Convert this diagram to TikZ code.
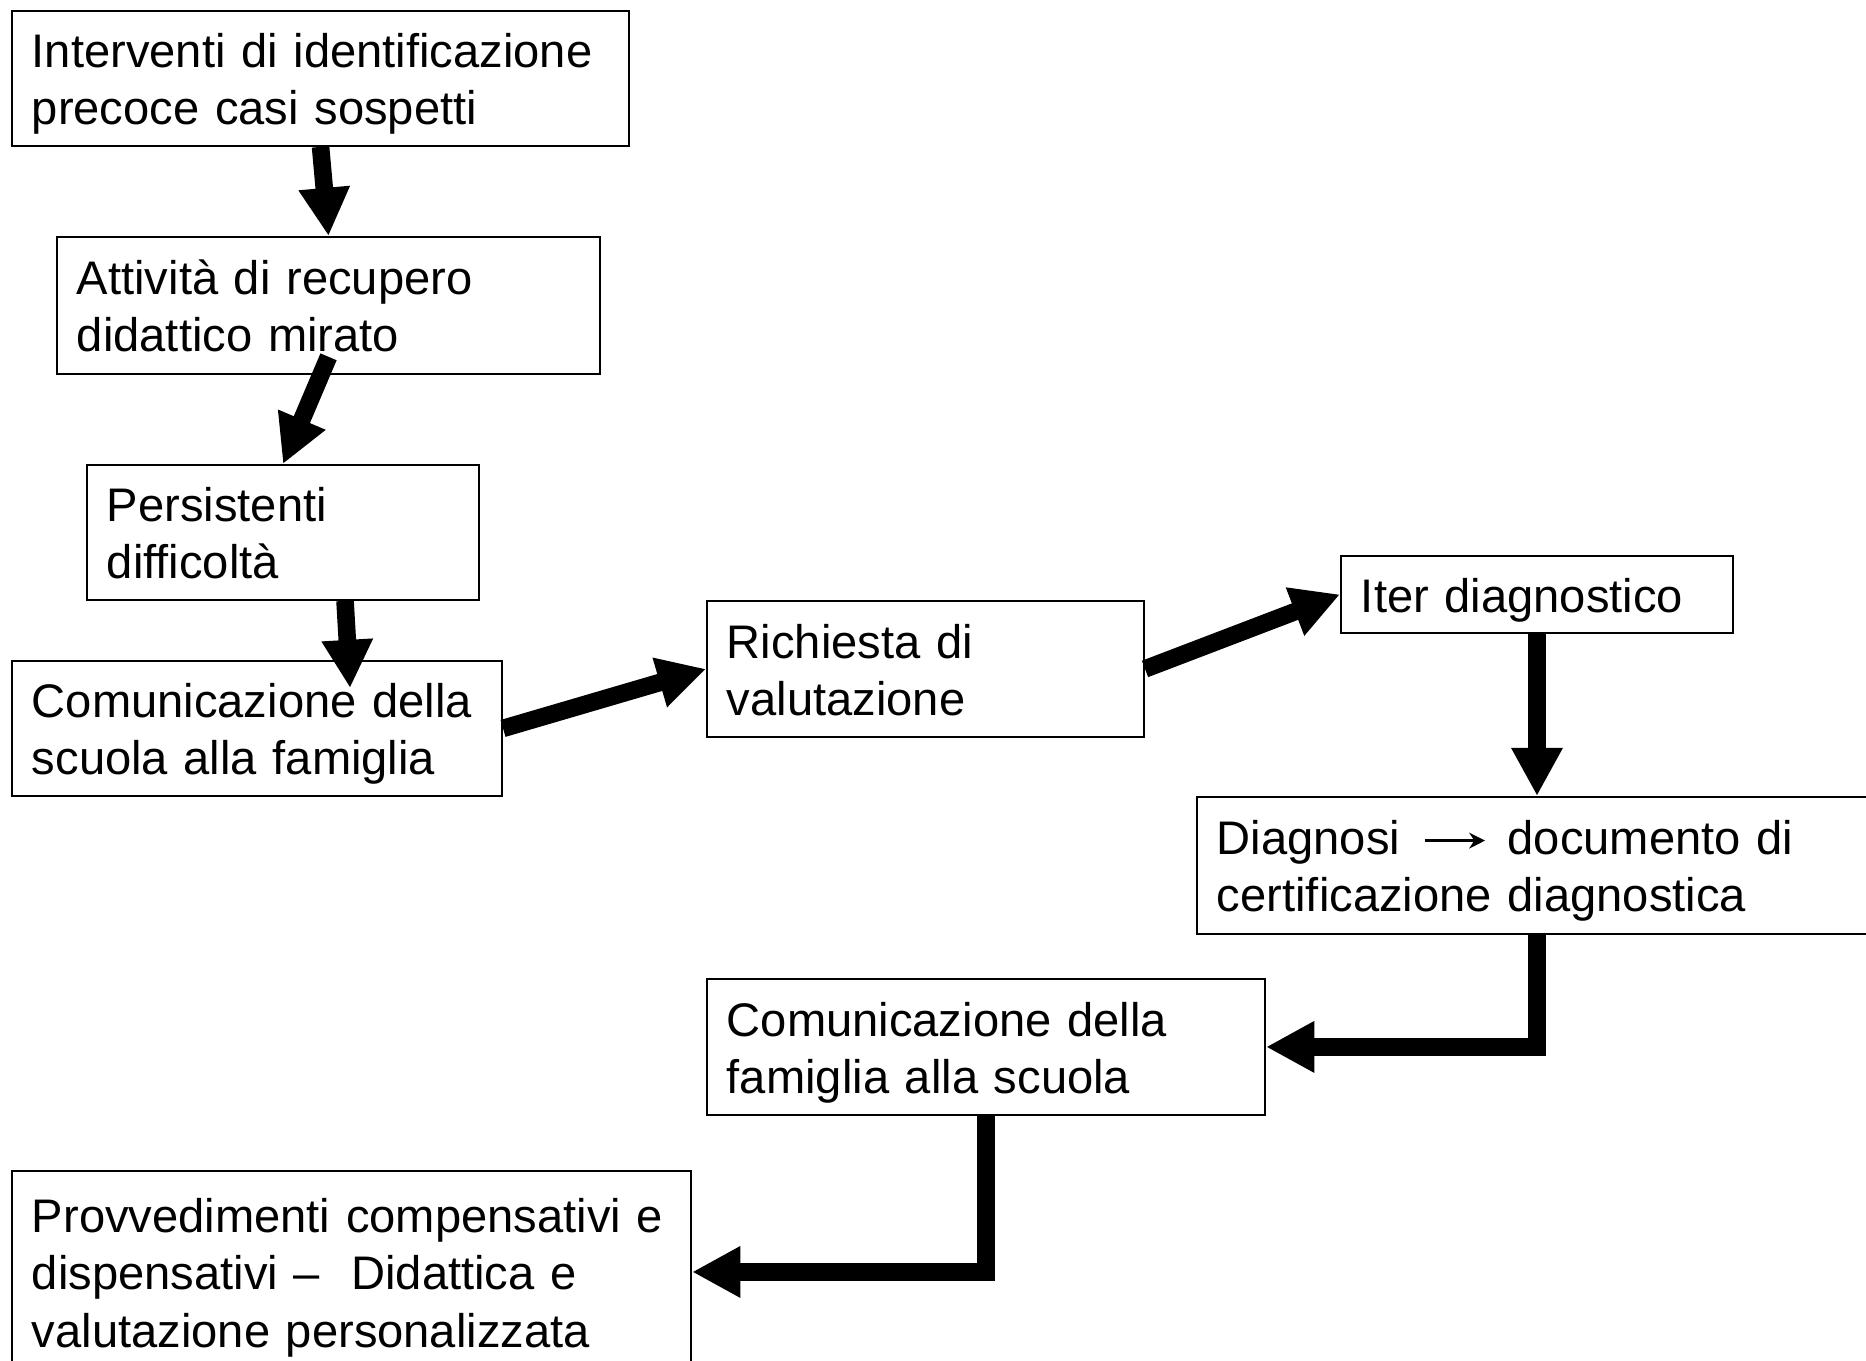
\documentclass[tikz,border=0pt]{standalone}
\usepackage{fontspec}
\setmainfont{Liberation Sans}
\usetikzlibrary{arrows.meta}
\tikzset{
  passo/.style={draw, line width=0.5pt, anchor=north west, align=left,
    inner xsep=0.2cm, inner ysep=2pt,
    font=\fontsize{13.4}{16.3}\selectfont,
    execute at begin node={\rule{0pt}{0.97em}},
    execute at end node={\rule[-0.21em]{0pt}{0pt}}},
  pfeil/.style={line width=5pt, line join=miter,
    -{Triangle[length=13.7pt,width=13.7pt]}}
}
\begin{document}
\begin{tikzpicture}[x=0.01cm,y=-0.01cm]
    \useasboundingbox (0,0) rectangle (1866,1360);
    \node[passo, text width=5.77cm, minimum height=1.35cm] (interventi) at (11,10)
      {Interventi di identificazione\\precoce casi sospetti};
    \node[passo, text width=5.03cm, minimum height=1.37cm] (recupero) at (56,236)
      {Attività di recupero\\didattico mirato};
    \node[passo, text width=3.52cm, minimum height=1.35cm] (difficolta) at (86,464)
      {Persistenti\\difficoltà};
    \node[passo, text width=4.50cm, minimum height=1.35cm] (scuolafam) at (11,660)
      {Comunicazione della\\scuola alla famiglia};
    \node[passo, text width=3.97cm, minimum height=1.36cm] (richiesta) at (706,600)
      {Richiesta di\\valutazione};
    \node[passo, text width=3.52cm, minimum height=0.77cm] (iter) at (1340,555)
      {Iter diagnostico};
    \node[passo, text width=6.30cm, minimum height=1.37cm] (diagnosi) at (1196,796)
      {Diagnosi\hspace{0.5em}\tikz[baseline=-4pt]\draw[line width=0.8pt,-{Stealth[length=4.5pt,width=4.5pt]}] (0pt,0pt) -- (17pt,0pt);\hspace{0.45em}documento di\\certificazione diagnostica};
    \node[passo, text width=5.18cm, minimum height=1.36cm] (famscuola) at (706,978)
      {Comunicazione della\\famiglia alla scuola};
    \node[passo, text width=6.39cm, minimum height=2.02cm] (provv) at (11,1170)
      {\mbox{Provvedimenti compensativi e}\\dispensativi --\ \ Didattica e\\valutazione personalizzata};

    \draw[pfeil] (interventi.south) -- (recupero.north);
    \draw[pfeil] ([yshift=0.18cm]recupero.south) -- (difficolta.north);
    \draw[pfeil] ([xshift=0.62cm]difficolta.south) -- ([xshift=0.93cm,yshift=-0.28cm]scuolafam.north);
    \draw[pfeil] (scuolafam.east) -- (richiesta.west);
    \draw[pfeil] (richiesta.east) -- (iter.west);
    \draw[pfeil] (iter.south) -- (iter.south |- diagnosi.north);
    \draw[pfeil] (iter.south |- diagnosi.south) |- (famscuola.east);
    \draw[pfeil] (famscuola.south) |- (provv.east);
\end{tikzpicture}
\end{document}
